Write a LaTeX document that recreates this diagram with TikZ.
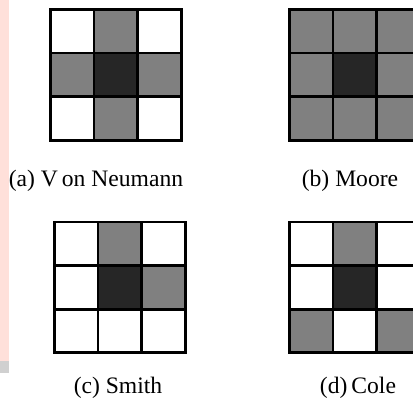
\documentclass[tikz,border=0pt]{standalone}
\usepackage{fontspec}
\setmainfont{Liberation Serif}
\usepackage{tikz}
\usetikzlibrary{positioning}
\definecolor{cellgray}{RGB}{128, 128, 128}
\definecolor{celldark}{RGB}{38, 38, 38}
\definecolor{stripcolor}{RGB}{255, 224, 218}
\definecolor{barcolor}{RGB}{208, 208, 208}

\begin{document}
\begin{tikzpicture}[
    x=0.75pt, y=-0.75pt,
    cell/.style={rectangle, draw=black, line width=2pt, minimum size=32.7pt, inner sep=0pt},
    caption/.style={anchor=base, inner sep=0pt, font=\fontsize{17.7}{21}\selectfont}
]
\clip (0,0) rectangle (413,403);

% Page edge
\fill[stripcolor] (0,0) rectangle (8.5,361);
\fill[barcolor] (0,361) rectangle (8.5,372.7);

% Von Neumann
\foreach \f [count=\k from 0] in {white,cellgray,white, cellgray,celldark,cellgray, white,cellgray,white}
    \node[cell, fill=\f] (a\k) at ({72.3+43.6*mod(\k,3)}, {31.3+43.6*int(\k/3)}) {};

% Moore
\foreach \f [count=\k from 0] in {cellgray,cellgray,cellgray, cellgray,celldark,cellgray, cellgray,cellgray,cellgray}
    \node[cell, fill=\f] (b\k) at ({311.1+43.6*mod(\k,3)}, {31.3+43.6*int(\k/3)}) {};

% Smith
\foreach \f [count=\k from 0] in {white,cellgray,white, white,celldark,cellgray, white,white,white}
    \node[cell, fill=\f] (c\k) at ({76.3+43.6*mod(\k,3)}, {243.8+43.6*int(\k/3)}) {};

% Cole
\foreach \f [count=\k from 0] in {white,cellgray,white, white,celldark,white, cellgray,white,cellgray}
    \node[cell, fill=\f] (d\k) at ({311.1+43.6*mod(\k,3)}, {243.8+43.6*int(\k/3)}) {};

% Captions
\node[caption] (capA) at (96,186.7) {(a) V\,on Neumann};
\node[caption] (capB) at (350,186.7) {(b) Moore};
\node[caption] (capC) at (118,393.3) {(c) Smith};
\node[caption] (capD) at (358,393.3) {(d)\,Cole};

\end{tikzpicture}
\end{document}
